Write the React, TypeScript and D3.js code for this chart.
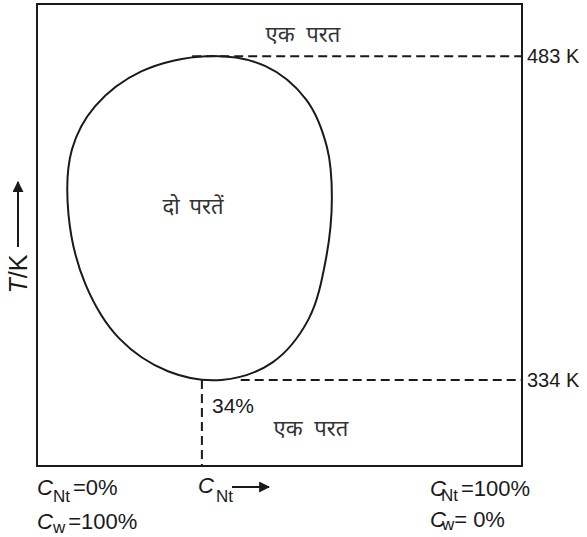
import React from "react";
import * as d3 from "d3";

// Composition of nicotine (%) and temperature (K) along the solubility curve
const curveC = [35, 47, 55.5, 59.8, 60.8, 59.6, 56, 48.5, 38, 27, 17, 10, 6.5, 7.2, 12, 21.5];
const curveT = [483, 478.5, 463, 441, 418, 390, 362, 342, 334, 338, 353, 378, 410, 440, 460, 476];
const upperT = 483;
const lowerT = 334;
const lowerC = 34;
const upperStartC = 32;
const lowerStartC = 42;
const tLabels = ["483 K", "334 K"];

export default function App() {
  const W = 587, H = 537;
  const left = 37, right = 522, top = 4, bottom = 466;
  const x = d3.scaleLinear().domain([0, 100]).range([left, right]);
  const y = d3.scaleLinear().domain([294.4, 507]).range([bottom, top]);
  const pts: [number, number][] = curveC.map((c, i) => [x(c), y(curveT[i])]);
  const path = d3.line().curve(d3.curveCatmullRomClosed.alpha(0.5))(pts) || "";
  const ink = "#1a1a1a";
  const font = "Liberation Sans, Arial, sans-serif";
  const hindi = "'Noto Sans Devanagari', 'Lohit Devanagari', 'Mangal', 'FreeSerif', serif";
  return (
    <svg width={W} height={H} style={{ position: "absolute", left: 0, top: 0, background: "#fff" }}>
      <defs>
        <marker id="ah" viewBox="0 0 10 10" refX="9" refY="5" markerWidth="5.5" markerHeight="5.5" orient="auto">
          <path d="M0,0 L10,5 L0,10 z" fill={ink} />
        </marker>
      </defs>
      <rect x={left} y={top} width={right - left} height={bottom - top} fill="none" stroke={ink} strokeWidth={2} />
      <line x1={x(upperStartC)} x2={right} y1={y(upperT)} y2={y(upperT)} stroke={ink} strokeWidth={2} strokeDasharray="9,5" />
      <line x1={x(lowerStartC)} x2={right} y1={y(lowerT)} y2={y(lowerT)} stroke={ink} strokeWidth={2} strokeDasharray="9,5" />
      <line x1={x(lowerC)} x2={x(lowerC)} y1={y(lowerT)} y2={bottom} stroke={ink} strokeWidth={2} strokeDasharray="9,5" />
      <path d={path} fill="none" stroke={ink} strokeWidth={2} />
      <text x={527} y={y(upperT) + 7} fontFamily={font} fontSize={20} fill={ink}>{tLabels[0]}</text>
      <text x={527} y={y(lowerT) + 7} fontFamily={font} fontSize={20} fill={ink}>{tLabels[1]}</text>
      <text x={212} y={413} fontFamily={font} fontSize={21} fill={ink}>34%</text>
      <text x={303} y={42} textAnchor="middle" fontFamily={hindi} fontSize={22} wordSpacing={6} fill="#333">एक परत</text>
      <text x={193} y={214} textAnchor="middle" fontFamily={hindi} fontSize={22} wordSpacing={4} fill="#333">दो परतें</text>
      <text x={311} y={436} textAnchor="middle" fontFamily={hindi} fontSize={22} wordSpacing={6} fill="#333">एक परत</text>
      <g transform="translate(27,274) rotate(-90)">
        <text x={0} y={0} textAnchor="middle" fontFamily={font} fontSize={25} fill={ink}>
          <tspan fontStyle="italic">T</tspan>/K
        </text>
      </g>
      <line x1={18} x2={18} y1={247} y2={182} stroke={ink} strokeWidth={2} markerEnd="url(#ah)" />
      <text x={37} y={495} fontFamily={font} fontSize={22} fill={ink}>
        <tspan fontStyle="italic">C</tspan><tspan fontSize={17} dy={7}>Nt</tspan><tspan dy={-7} dx={3}>=0%</tspan>
      </text>
      <text x={37} y={529} fontFamily={font} fontSize={22} fill={ink}>
        <tspan fontStyle="italic">C</tspan><tspan fontSize={17} dy={4}>w</tspan><tspan dy={-4} dx={3}>=100%</tspan>
      </text>
      <text x={198} y={493} fontFamily={font} fontSize={22} fill={ink}>
        <tspan fontStyle="italic">C</tspan><tspan fontSize={17} dy={9} dx={2}>Nt</tspan>
      </text>
      <line x1={232} x2={269} y1={487} y2={487} stroke={ink} strokeWidth={2} markerEnd="url(#ah)" />
      <text x={430} y={496} fontFamily={font} fontSize={22} fill={ink}>
        <tspan fontStyle="italic">C</tspan><tspan fontSize={17} dy={5} dx={-5}>Nt</tspan><tspan dy={-5} dx={3}>=100%</tspan>
      </text>
      <text x={430} y={527} fontFamily={font} fontSize={22} fill={ink}>
        <tspan fontStyle="italic">C</tspan><tspan fontSize={17} dy={3} dx={-4}>w</tspan><tspan dy={-3}>= 0%</tspan>
      </text>
    </svg>
  );
}
